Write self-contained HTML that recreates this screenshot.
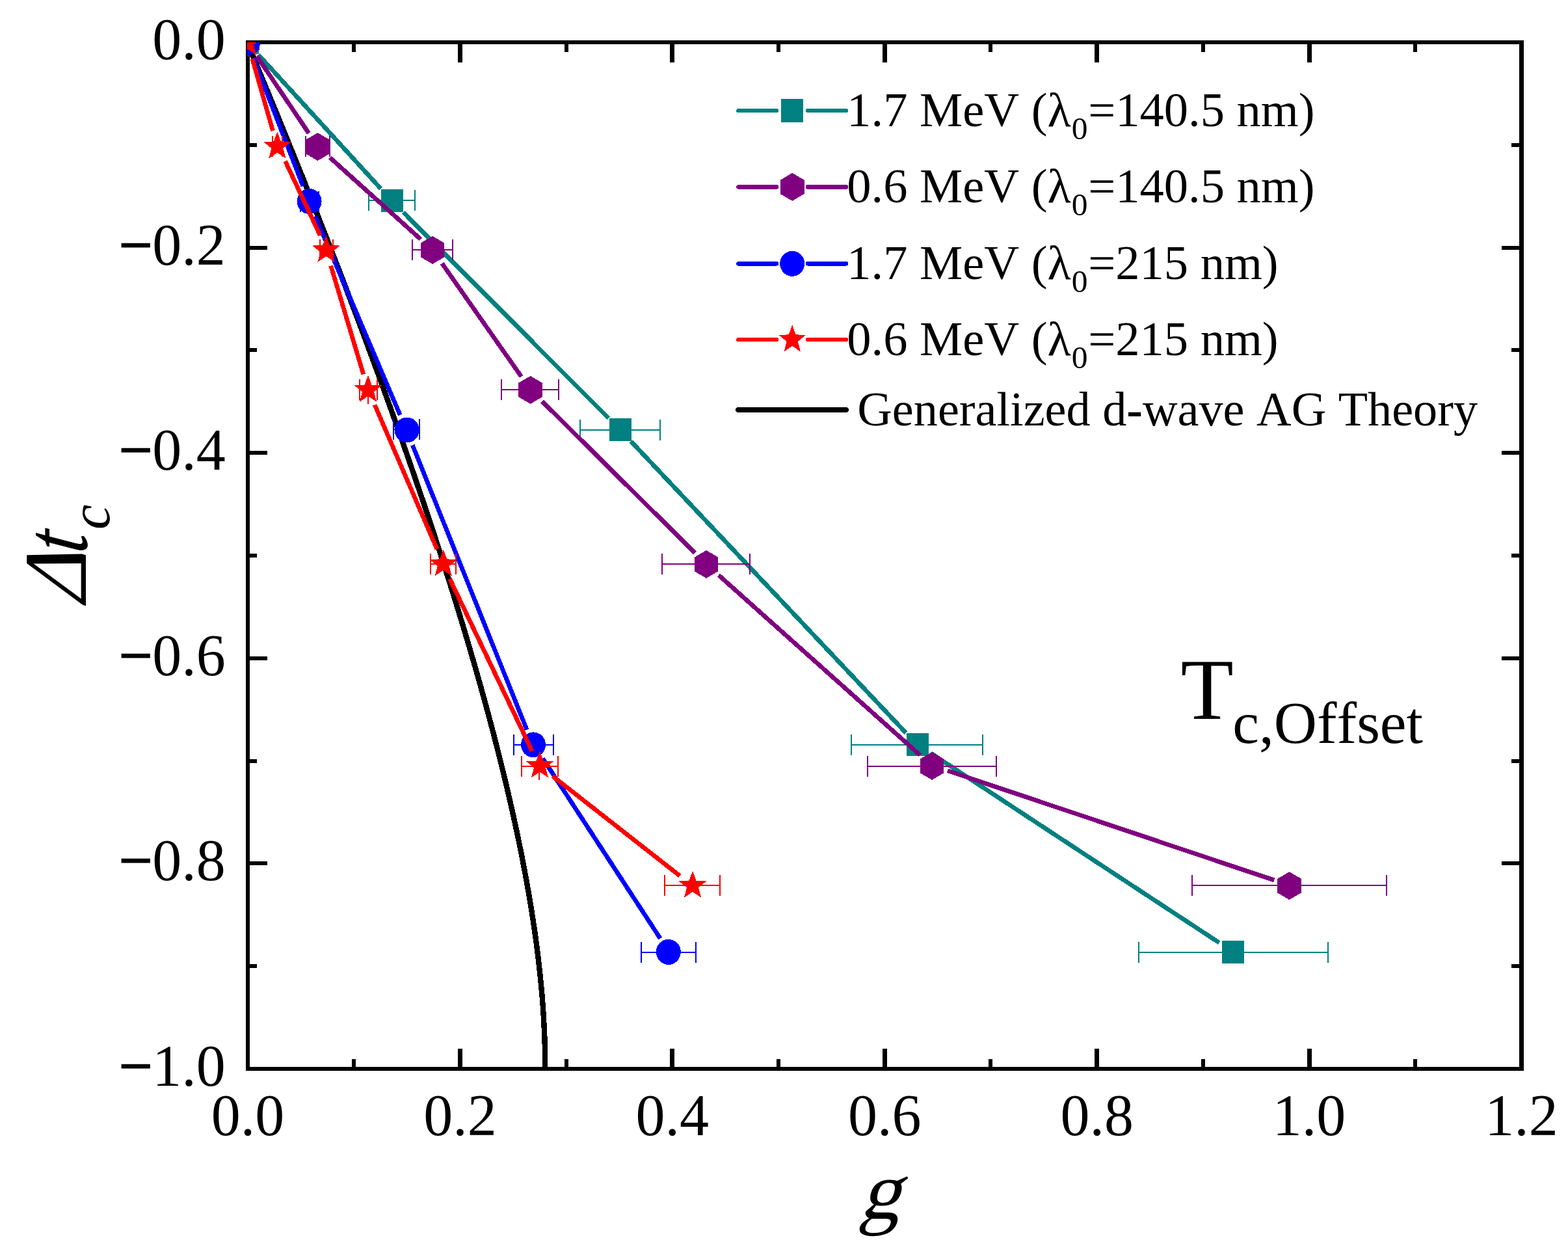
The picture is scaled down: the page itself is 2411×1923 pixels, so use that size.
<!DOCTYPE html>
<html lang="en"><head><meta charset="utf-8"><title>Tc,Offset – Δtc versus g</title>
<style>
html,body{margin:0;padding:0;background:#fff;}
body{width:2411px;height:1923px;overflow:hidden;}
svg{display:block;}
text{font-family:'Liberation Serif','Times New Roman',serif;fill:#000;font-kerning:none;font-variant-ligatures:none;}
.tick{font-size:90px;}
.leg{font-size:74.5px;}
.ttl{font-size:134px;}
</style></head><body>
<svg width="2411" height="1923" viewBox="0 0 2411 1923" role="img" aria-label="Tc offset: change in reduced critical temperature versus pair-breaking parameter g">
<rect x="0" y="0" width="2411" height="1923" fill="#fff"/>
<defs><clipPath id="plot"><rect x="380" y="65" width="1960.5" height="1579"/></clipPath></defs>
<g shape-rendering="crispEdges" fill="#000">
<rect x="378" y="62" width="1965" height="6"/><rect x="378" y="1640" width="1965" height="6"/><rect x="378" y="62" width="6" height="1584"/><rect x="2336" y="62" width="7" height="1584"/><rect x="541" y="62" width="6" height="18"/><rect x="541" y="1628" width="6" height="18"/><rect x="704" y="62" width="7" height="34"/><rect x="704" y="1612" width="7" height="34"/><rect x="868" y="62" width="6" height="18"/><rect x="868" y="1628" width="6" height="18"/><rect x="1030" y="62" width="7" height="34"/><rect x="1030" y="1612" width="7" height="34"/><rect x="1194" y="62" width="6" height="18"/><rect x="1194" y="1628" width="6" height="18"/><rect x="1357" y="62" width="7" height="34"/><rect x="1357" y="1612" width="7" height="34"/><rect x="1520" y="62" width="6" height="18"/><rect x="1520" y="1628" width="6" height="18"/><rect x="1683" y="62" width="7" height="34"/><rect x="1683" y="1612" width="7" height="34"/><rect x="1847" y="62" width="6" height="18"/><rect x="1847" y="1628" width="6" height="18"/><rect x="2010" y="62" width="7" height="34"/><rect x="2010" y="1612" width="7" height="34"/><rect x="2173" y="62" width="6" height="18"/><rect x="2173" y="1628" width="6" height="18"/><rect x="378" y="220" width="17" height="6"/><rect x="2324" y="220" width="19" height="6"/><rect x="378" y="378" width="33" height="6"/><rect x="2309" y="378" width="34" height="6"/><rect x="378" y="535" width="17" height="6"/><rect x="2324" y="535" width="19" height="6"/><rect x="378" y="693" width="33" height="6"/><rect x="2309" y="693" width="34" height="6"/><rect x="378" y="851" width="17" height="6"/><rect x="2324" y="851" width="19" height="6"/><rect x="378" y="1009" width="33" height="6"/><rect x="2309" y="1009" width="34" height="6"/><rect x="378" y="1167" width="17" height="6"/><rect x="2324" y="1167" width="19" height="6"/><rect x="378" y="1324" width="33" height="6"/><rect x="2309" y="1324" width="34" height="6"/><rect x="378" y="1482" width="17" height="6"/><rect x="2324" y="1482" width="19" height="6"/>
</g>
<g clip-path="url(#plot)" shape-rendering="crispEdges">
<polyline transform="translate(-0.9,0)" points="381,65 426.77,175.41 466.43,273.29 500.98,360.5 531.24,438.58 557.85,508.78 581.36,572.16 602.22,629.59 620.79,681.83 637.38,729.49 652.26,773.12 665.65,813.18 677.73,850.06 688.65,884.1 698.57,915.6 707.59,944.81 715.81,971.96 723.33,997.26 730.21,1020.87 736.53,1042.94 742.35,1063.62 747.7,1083.03 752.65,1101.28 757.23,1118.45 761.46,1134.64 765.4,1149.93 769.05,1164.39 772.46,1178.07 775.63,1191.04 778.59,1203.35 781.36,1215.05 783.95,1226.17 786.38,1236.77 788.65,1246.86 790.79,1256.5 792.81,1265.7 794.7,1274.49 796.49,1282.9 798.17,1290.96 799.76,1298.68 801.26,1306.08 802.68,1313.19 804.03,1320.01 805.31,1326.57 806.52,1332.88 807.66,1338.95 808.75,1344.8 809.79,1350.44 810.78,1355.88 811.72,1361.12 812.61,1366.18 813.47,1371.07 814.28,1375.8 815.06,1380.37 815.8,1384.8 816.51,1389.08 817.19,1393.22 817.84,1397.24 818.46,1401.13 819.06,1404.91 819.63,1408.57 820.18,1412.12 820.71,1415.58 821.21,1418.93 821.7,1422.19 822.16,1425.35 822.61,1428.43 823.04,1431.43 823.46,1434.34 823.86,1437.18 824.24,1439.95 824.61,1442.64 824.97,1445.26 825.32,1447.82 825.65,1450.31 825.97,1452.74 826.28,1455.12 826.58,1457.43 826.87,1459.69 827.15,1461.9 827.42,1464.05 827.68,1466.16 827.94,1468.22 828.18,1470.23 828.42,1472.19 828.65,1474.12 828.87,1476 829.09,1477.84 829.3,1479.64 829.5,1481.4 829.7,1483.13 829.89,1484.82 830.07,1486.47 830.25,1488.09 830.43,1489.68 830.6,1491.24 830.76,1492.76 830.93,1494.26 831.08,1495.72 831.23,1497.16 831.38,1498.57 831.52,1499.96 831.66,1501.32 831.8,1502.65 831.93,1503.96 832.06,1505.24 832.19,1506.5 832.31,1507.74 832.43,1508.96 832.54,1510.16 832.66,1511.33 832.77,1512.49 832.88,1513.62 832.98,1514.74 833.08,1515.83 833.18,1516.91 833.28,1517.97 833.38,1519.01 833.47,1520.04 833.56,1521.05 833.65,1522.04 833.73,1523.02 833.82,1523.98 833.9,1524.92 833.98,1525.85 834.06,1526.77 834.14,1527.67 834.21,1528.56 834.29,1529.44 834.36,1530.3 834.43,1531.15 834.5,1531.99 834.57,1532.81 834.63,1533.62 834.7,1534.43 834.76,1535.21 834.82,1535.99 834.88,1536.76 834.94,1537.52 835,1538.26 835.06,1539 835.12,1539.72 835.17,1540.44 835.22,1541.14 835.28,1541.84 835.33,1542.52 835.38,1543.2 835.43,1543.87 835.48,1544.53 835.53,1545.18 835.57,1545.82 835.62,1546.45 835.66,1547.08 835.71,1547.7 835.75,1548.31 835.79,1548.91 835.84,1549.5 835.88,1550.09 835.92,1550.67 835.96,1551.24 836,1551.81 836.03,1552.37 836.07,1552.92 836.11,1553.46 836.14,1554 836.18,1554.54 836.21,1555.06 836.25,1555.58 836.28,1556.1 836.32,1556.6 836.35,1557.11 836.38,1557.6 836.41,1558.09 836.44,1558.58 836.47,1559.06 836.5,1559.53 836.53,1560 836.56,1560.46 836.59,1560.92 836.62,1561.38 836.65,1561.83 836.67,1562.27 836.7,1562.71 836.73,1563.14 836.75,1563.57 836.78,1564 836.8,1564.42 836.83,1564.83 836.85,1565.24 836.88,1565.65 836.9,1566.05 836.92,1566.45 836.95,1566.85 836.97,1567.24 836.99,1567.63 837.01,1568.01 837.03,1568.39 837.06,1568.76 837.08,1569.13 837.1,1569.5 837.33,1573.78 837.54,1577.81 837.72,1581.61 837.88,1585.19 838.03,1588.57 838.16,1591.75 838.27,1594.74 838.37,1597.56 838.47,1600.22 838.55,1602.72 838.62,1605.08 838.68,1607.3 838.74,1609.39 838.79,1611.36 838.83,1613.21 838.87,1614.96 838.9,1616.6 838.93,1618.15 838.96,1619.61 838.99,1620.98 839.01,1622.27 839.03,1623.48 839.04,1624.63 839.06,1625.71 839.07,1626.72 839.08,1627.68 839.09,1628.57 839.1,1629.42 839.11,1630.22 839.12,1630.97 839.12,1631.67 839.13,1632.34 839.14,1632.96 839.14,1633.55 839.14,1634.11 839.15,1634.63 839.15,1635.12 839.15,1635.58 839.16,1636.02 839.16,1636.43 839.16,1636.81 839.16,1637.17 839.16,1637.52 839.16,1637.84 839.17,1638.14 839.17,1638.43 839.17,1638.69 839.17,1638.95 839.17,1639.18 839.17,1639.41 839.17,1639.62 839.17,1639.82 839.17,1640 839.17,1640.18 839.17,1640.35 839.17,1640.5 839.17,1640.65 839.17,1640.79 839.17,1640.92 839.17,1641.04 839.17,1641.15 839.17,1641.26 839.17,1641.36 839.17,1641.46 839.17,1641.55 839.17,1641.64 839.17,1641.72 839.17,1641.79 839.17,1641.86 839.17,1641.93 839.17,1641.99 839.17,1642.05 839.17,1642.11 839.17,1642.16 839.17,1642.21 839.17,1642.25 839.17,1642.3 839.17,1642.34 839.17,1642.38 839.17,1642.41 839.17,1642.45 839.17,1642.48 839.17,1642.51 839.17,1642.54 839.17,1642.57 839.17,1642.59 839.17,1642.62 839.17,1642.64 839.17,1642.66 839.17,1642.68 839.17,1642.7 839.17,1642.72 839.17,1642.73 839.17,1642.75 839.17,1642.76 839.17,1642.78 839.17,1642.79 839.17,1642.8 839.17,1642.81 839.17,1642.83 839.17,1642.84 839.17,1642.85 839.17,1642.85 839.17,1642.86 839.17,1642.87 839.17,1642.88 839.17,1642.89 839.17,1642.89 839.17,1642.9 839.17,1642.9 839.17,1642.91 839.17,1642.92 839.17,1642.92 839.17,1642.93 839.17,1642.93 839.17,1642.93 839.17,1642.94 839.17,1642.94 839.17,1642.94 839.17,1643" fill="none" stroke="#000" stroke-width="8.4" stroke-linejoin="round"/>
<g stroke="#008080" stroke-width="6.8" fill="none"><line x1="397.17" y1="83.95" x2="585.43" y2="289.95"/><line x1="619.95" y1="326.11" x2="935.55" y2="642.69"/><line x1="970.36" y1="678.58" x2="1393.14" y2="1126.72"/><line x1="1431.19" y1="1157.63" x2="1874.71" y2="1449.17"/></g>
<g stroke="#008080" stroke-width="2" fill="none"><path d="M567 308.4H638M567 292.4V324.4M638 292.4V324.4"/><path d="M892 660.5H1015M892 644.5V676.5M1015 644.5V676.5"/><path d="M1309 1145H1511.4M1309 1129V1161M1511.4 1129V1161"/><path d="M1751 1464H2042M1751 1448V1480M2042 1448V1480"/></g>
<rect x="364" y="48" width="34" height="35" fill="#008080"/><rect x="586" y="291" width="34" height="35" fill="#008080"/><rect x="937" y="643" width="34" height="35" fill="#008080"/><rect x="1394" y="1127" width="34" height="35" fill="#008080"/><rect x="1879" y="1446" width="34" height="35" fill="#008080"/>
<g stroke="#800080" stroke-width="6.8" fill="none"><line x1="395.27" y1="86.74" x2="474.83" y2="204.86"/><line x1="507.38" y1="242.32" x2="646.72" y2="367.68"/><line x1="679.64" y1="404.88" x2="801.56" y2="578.92"/><line x1="833.66" y1="617" x2="1068.54" y2="849.8"/><line x1="1104.94" y1="884.06" x2="1414.66" y2="1160.74"/><line x1="1457" y1="1184.65" x2="1959.1" y2="1352.95"/></g>
<g stroke="#800080" stroke-width="2" fill="none"><path d="M469.6 224.6H507.4M469.6 208.6V240.6M507.4 208.6V240.6"/><path d="M634 383.5H696M634 367.5V399.5M696 367.5V399.5"/><path d="M771 599H859M771 583V615M859 583V615"/><path d="M1018 867H1153.4M1018 851V883M1153.4 851V883"/><path d="M1334 1177.5H1532M1334 1161.5V1193.5M1532 1161.5V1193.5"/><path d="M1833 1360.5H2132M1833 1344.5V1376.5M2132 1344.5V1376.5"/></g>
<polygon points="381,44.5 362.66,55.25 362.66,76.75 381,87.5 399.34,76.75 399.34,55.25" fill="#800080"/><polygon points="488.5,204.1 470.16,214.85 470.16,236.35 488.5,247.1 506.84,236.35 506.84,214.85" fill="#800080"/><polygon points="665,362.9 646.66,373.65 646.66,395.15 665,405.9 683.34,395.15 683.34,373.65" fill="#800080"/><polygon points="815.6,577.9 797.26,588.65 797.26,610.15 815.6,620.9 833.94,610.15 833.94,588.65" fill="#800080"/><polygon points="1086,845.9 1067.66,856.65 1067.66,878.15 1086,888.9 1104.34,878.15 1104.34,856.65" fill="#800080"/><polygon points="1433,1155.9 1414.66,1166.65 1414.66,1188.15 1433,1198.9 1451.34,1188.15 1451.34,1166.65" fill="#800080"/><polygon points="1982.5,1340.1 1964.16,1350.85 1964.16,1372.35 1982.5,1383.1 2000.84,1372.35 2000.84,1350.85" fill="#800080"/>
<g stroke="#0000ff" stroke-width="6.8" fill="none"><line x1="389.44" y1="88.81" x2="465.96" y2="286.19"/><line x1="484.81" y1="332.49" x2="615.19" y2="638.01"/><line x1="634.32" y1="684.2" x2="810.08" y2="1121.7"/><line x1="834.66" y1="1165.84" x2="1015.14" y2="1442.46"/></g>
<g stroke="#0000ff" stroke-width="2" fill="none"><path d="M461.6 309.5H489.6M461.6 293.5V325.5M489.6 293.5V325.5"/><path d="M605 660.4H644.5M605 644.4V676.4M644.5 644.4V676.4"/><path d="M790 1145H851M790 1129V1161M851 1129V1161"/><path d="M986 1464H1069.5M986 1448V1480M1069.5 1448V1480"/></g>
<ellipse cx="381" cy="65.5" rx="19" ry="19.5" fill="#0000ff"/><ellipse cx="475.6" cy="309.5" rx="19" ry="19.5" fill="#0000ff"/><ellipse cx="625.6" cy="661" rx="19" ry="19.5" fill="#0000ff"/><ellipse cx="820" cy="1144.9" rx="19" ry="19.5" fill="#0000ff"/><ellipse cx="1027.8" cy="1463.4" rx="19" ry="19.5" fill="#0000ff"/>
<g stroke="#ff0000" stroke-width="6.8" fill="none"><line x1="387.86" y1="90.04" x2="419.54" y2="201.06"/><line x1="438.55" y1="247.72" x2="492.35" y2="361.98"/><line x1="508.69" y1="408.54" x2="558.81" y2="575.36"/><line x1="576.12" y1="622.25" x2="671.98" y2="844.15"/><line x1="691.49" y1="889.65" x2="818.21" y2="1154.65"/><line x1="849.68" y1="1193.02" x2="1045.32" y2="1346.28"/></g>
<g stroke="#ff0000" stroke-width="2" fill="none"><path d="M419.1 224.5H434M419.1 208.5V240.5M434 208.5V240.5"/><path d="M492 383.5H511.5M492 367.5V399.5M511.5 367.5V399.5"/><path d="M553 598.7H579.5M553 582.7V614.7M579.5 582.7V614.7"/><path d="M661.5 867H701M661.5 851V883M701 851V883"/><path d="M802 1177.5H858M802 1161.5V1193.5M858 1161.5V1193.5"/><path d="M1022 1360.5H1107M1022 1344.5V1376.5M1107 1344.5V1376.5"/></g>
<path d="M566 599.3v21.7M829 1177.2v21.7" stroke="#ff0000" stroke-width="2" fill="none"/>
<polygon points="381,43.3 375.47,58.29 359.7,58.99 372.05,68.95 367.83,84.36 381,75.53 394.17,84.36 389.95,68.95 402.3,58.99 386.53,58.29" fill="#ff0000"/><polygon points="426.4,202.4 420.87,217.39 405.1,218.09 417.45,228.05 413.23,243.46 426.4,234.63 439.57,243.46 435.35,228.05 447.7,218.09 431.93,217.39" fill="#ff0000"/><polygon points="501.5,361.9 495.97,376.89 480.2,377.59 492.55,387.55 488.33,402.96 501.5,394.13 514.67,402.96 510.45,387.55 522.8,377.59 507.03,376.89" fill="#ff0000"/><polygon points="566,576.6 560.47,591.59 544.7,592.29 557.05,602.25 552.83,617.66 566,608.83 579.17,617.66 574.95,602.25 587.3,592.29 571.53,591.59" fill="#ff0000"/><polygon points="681.7,844.4 676.17,859.39 660.4,860.09 672.75,870.05 668.53,885.46 681.7,876.63 694.87,885.46 690.65,870.05 703,860.09 687.23,859.39" fill="#ff0000"/><polygon points="830,1154.5 824.47,1169.49 808.7,1170.19 821.05,1180.15 816.83,1195.56 830,1186.73 843.17,1195.56 838.95,1180.15 851.3,1170.19 835.53,1169.49" fill="#ff0000"/><polygon points="1065,1338.6 1059.47,1353.59 1043.7,1354.29 1056.05,1364.25 1051.83,1379.66 1065,1370.83 1078.17,1379.66 1073.95,1364.25 1086.3,1354.29 1070.53,1353.59" fill="#ff0000"/>
</g>
<g class="tick">
<text x="346.8" y="91" text-anchor="end">0.0</text>
<text x="346.8" y="406.6" text-anchor="end"><tspan stroke="#000" stroke-width="2.4">−</tspan>0.2</text>
<text x="346.8" y="722.2" text-anchor="end"><tspan stroke="#000" stroke-width="2.4">−</tspan>0.4</text>
<text x="346.8" y="1037.8" text-anchor="end"><tspan stroke="#000" stroke-width="2.4">−</tspan>0.6</text>
<text x="346.8" y="1353.4" text-anchor="end"><tspan stroke="#000" stroke-width="2.4">−</tspan>0.8</text>
<text x="346.8" y="1669" text-anchor="end"><tspan stroke="#000" stroke-width="2.4">−</tspan>1.0</text>
<text x="381" y="1745" text-anchor="middle">0.0</text>
<text x="707.42" y="1745" text-anchor="middle">0.2</text>
<text x="1033.83" y="1745" text-anchor="middle">0.4</text>
<text x="1360.25" y="1745" text-anchor="middle">0.6</text>
<text x="1686.67" y="1745" text-anchor="middle">0.8</text>
<text x="2013.08" y="1745" text-anchor="middle">1.0</text>
<text x="2339.5" y="1745" text-anchor="middle">1.2</text>
</g>
<text transform="translate(1320.5,1873) skewX(-16)" x="0" y="0" font-size="126px">g</text>
<g transform="translate(131.7,931.6) rotate(-90)"><text transform="skewX(-20.2)" x="-5.1" y="0" font-size="137.5px">Δ</text><text transform="translate(79.8,1) scale(0.78,1) skewX(-9)" x="0" y="0" font-size="137.5px" font-style="italic" stroke="#000" stroke-width="1">t</text><text x="117.5" y="36.6" font-size="86.5px" font-style="italic">c</text></g>
<text x="1815.5" y="1105" style="font-size:133px">T<tspan style="font-size:91.7px" dy="37" dx="-1.5">c,Offset</tspan></text>
<g shape-rendering="crispEdges">
<path d="M1135.5 170H1194M1242 170H1301" stroke="#008080" stroke-width="6.5" stroke-linecap="round" fill="none"/>
<rect x="1201" y="152" width="34" height="36" fill="#008080"/>
<path d="M1135.5 287.4H1194M1242 287.4H1301" stroke="#800080" stroke-width="6.5" stroke-linecap="round" fill="none"/>
<polygon points="1218.2,265.9 1199.86,276.65 1199.86,298.15 1218.2,308.9 1236.54,298.15 1236.54,276.65" fill="#800080"/>
<path d="M1135.5 405.3H1194M1242 405.3H1301" stroke="#0000ff" stroke-width="6.5" stroke-linecap="round" fill="none"/>
<ellipse cx="1218.2" cy="405.3" rx="19" ry="19.5" fill="#0000ff"/>
<path d="M1135.5 522.1H1194M1242 522.1H1301" stroke="#ff0000" stroke-width="6.5" stroke-linecap="round" fill="none"/>
<polygon points="1218.2,499.2 1212.87,514.32 1197.66,515.02 1209.57,525.07 1205.5,540.63 1218.2,531.72 1230.9,540.63 1226.83,525.07 1238.74,515.02 1223.53,514.32" fill="#ff0000"/>
<path d="M1135 630H1301" stroke="#000" stroke-width="8.5" stroke-linecap="round" fill="none"/>
</g>
<g class="leg">
<text x="1302.3" y="193.6">1.7 MeV (λ<tspan font-size="49.5px" dy="20" dx="1">0</tspan><tspan dy="-20" dx="0.8">=140.5 nm)</tspan></text>
<text x="1302.3" y="311.1">0.6 MeV (λ<tspan font-size="49.5px" dy="20" dx="1">0</tspan><tspan dy="-20" dx="0.8">=140.5 nm)</tspan></text>
<text x="1302.3" y="428.8">1.7 MeV (λ<tspan font-size="49.5px" dy="20" dx="1">0</tspan><tspan dy="-20" dx="0.8">=215 nm)</tspan></text>
<text x="1302.3" y="546.3">0.6 MeV (λ<tspan font-size="49.5px" dy="20" dx="1">0</tspan><tspan dy="-20" dx="0.8">=215 nm)</tspan></text>
<text x="1318.3" y="654" font-size="74.2px">Generalized d<tspan font-weight="bold">-</tspan>wave AG Theory</text>
</g>
</svg></body></html>
